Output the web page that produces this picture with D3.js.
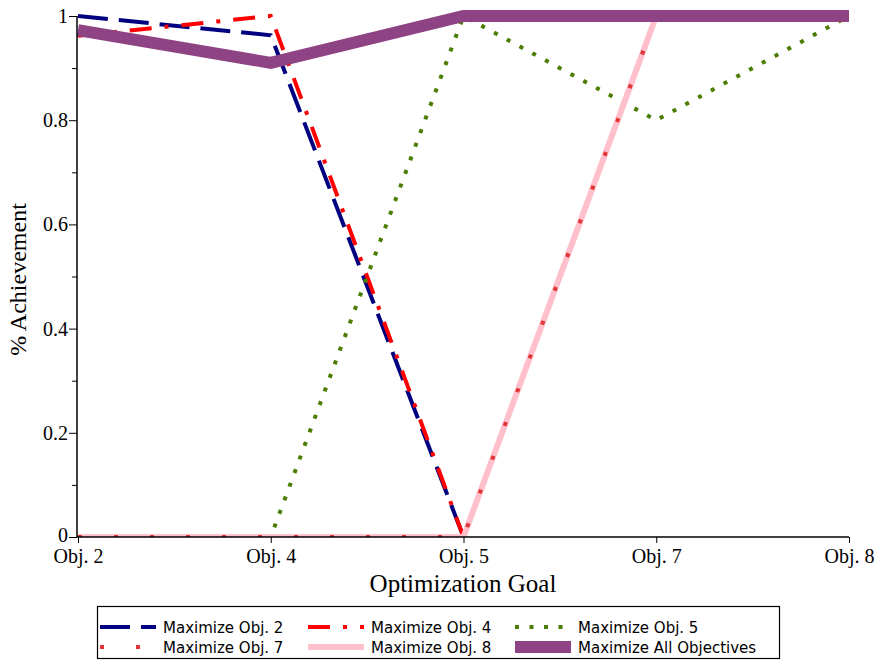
<!DOCTYPE html>
<html>
<head>
<meta charset="utf-8">
<script src="https://cdn.jsdelivr.net/npm/d3@7/dist/d3.min.js"></script>
<style>
  body { margin: 0; background: #fff; }
  svg { display: block; }
  .axis text { font-family: 'Liberation Serif', 'Times New Roman', serif; font-size: 20px; fill: #000; }
</style>
</head>
<body>
<div id="chart-area"></div>
<script>
// --- Data ---
var goals = ["Obj. 2", "Obj. 4", "Obj. 5", "Obj. 7", "Obj. 8"];
var maxObj2 = [1, 0.963, 0, 1, 1];
var maxObj4 = [0.962, 1, 0, 1, 1];
var maxObj5 = [0, 0, 1, 0.8, 1];
var maxObj7 = [0, 0, 0, 1, 1];
var maxObj8 = [0, 0, 0, 1, 1];
var maxAll = [0.973, 0.91, 1, 1, 1];
var yTicks = [0, 0.2, 0.4, 0.6, 0.8, 1];
var yMinorTicks = [0.1, 0.3, 0.5, 0.7, 0.9];

var series = [
    {name: "Maximize Obj. 2", values: maxObj2, color: "#000080", width: 4, dash: "30,11"},
    {name: "Maximize Obj. 4", values: maxObj4, color: "#ff0000", width: 4, dash: "22,13,4,13"},
    {name: "Maximize Obj. 5", values: maxObj5, color: "#4b7d00", width: 4, dash: "4,10.5"},
    {name: "Maximize Obj. 8", values: maxObj8, color: "#ffc0cb", width: 6, dash: null},
    {name: "Maximize Obj. 7", values: maxObj7, color: "#e03636", width: 4, dash: "4,32"},
    {name: "Maximize All Objectives", values: maxAll, color: "#8e4384", width: 12, dash: null}
];
var legendOrder = ["Maximize Obj. 2", "Maximize Obj. 4", "Maximize Obj. 5",
                   "Maximize Obj. 7", "Maximize Obj. 8", "Maximize All Objectives"];

// --- Setup the canvas ---
var margins = {top: 16, bottom: 124, left: 77, right: 28};
var svgW = 877, svgH = 661;
var width = svgW - margins.left - margins.right;
var height = svgH - margins.top - margins.bottom;

var svg = d3.select("#chart-area").append("svg")
    .attr("width", svgW)
    .attr("height", svgH);

var group = svg.append("g")
    .attr("transform", "translate(" + margins.left + ", " + margins.top + ")");

// --- Scales ---
var x = d3.scalePoint().domain(goals).range([1, width]);
var y = d3.scaleLinear().domain([0, 1]).range([height, 0]);

// clip to plot area
svg.append("defs").append("clipPath").attr("id", "plot-clip")
    .append("rect")
    .attr("x", 0).attr("y", -10)
    .attr("width", width + 10).attr("height", height + 10);

// --- Lines ---
var line = d3.line()
    .x(function(d, i) { return x(goals[i]); })
    .y(function(d) { return y(d); });

var lines = group.append("g").attr("clip-path", "url(#plot-clip)");
series.forEach(function(s) {
    lines.append("path")
        .attr("d", line(s.values))
        .attr("fill", "none")
        .attr("stroke", s.color)
        .attr("stroke-width", s.width)
        .attr("stroke-dasharray", s.dash)
        .attr("stroke-linejoin", "miter");
});

// --- Axes ---
var serif = "'Liberation Serif', 'Times New Roman', serif";

var xAxis = d3.axisBottom(x).tickSize(6).tickPadding(6);
var xAxisGroup = group.append("g")
    .attr("class", "axis x-axis")
    .attr("transform", "translate(0, " + height + ")")
    .call(xAxis);
xAxisGroup.select(".domain").attr("d", "M0,0H" + width).attr("stroke-width", 1.5);

var yAxis = d3.axisLeft(y).tickValues(yTicks).tickSize(8).tickPadding(1)
    .tickFormat(function(d) { return d === 0 || d === 1 ? d3.format("d")(d) : d3.format(".1f")(d); });
var yAxisGroup = group.append("g").attr("class", "axis y-axis").call(yAxis);
yAxisGroup.select(".domain").attr("d", "M0," + height + "V0").attr("stroke-width", 1.5);
// nudge the bottom label up a touch so it clears the x labels
yAxisGroup.selectAll(".tick text").filter(function(d) { return d === 0; }).attr("dy", "0.22em");

group.append("g").call(d3.axisLeft(y).tickValues(yMinorTicks).tickSize(5).tickFormat(""))
    .select(".domain").remove();

group.selectAll(".tick line").attr("stroke", "#000");

// --- Labels ---
svg.append("text")
    .text("Optimization Goal")
    .attr("x", margins.left + width / 2)
    .attr("y", 592)
    .attr("font-family", serif)
    .attr("font-size", "25px")
    .attr("text-anchor", "middle");

svg.append("text")
    .text("% Achievement")
    .attr("transform", "translate(26, " + (margins.top + height / 2 + 3) + ") rotate(-90)")
    .attr("font-family", serif)
    .attr("font-size", "24px")
    .attr("text-anchor", "middle");

// --- Legend ---
var legend = svg.append("g");
legend.append("rect")
    .attr("x", 97.5).attr("y", 606.5)
    .attr("width", 682).attr("height", 52)
    .attr("fill", "#fff")
    .attr("stroke", "#000")
    .attr("stroke-width", 1.2);

var colX = [100, 308, 515];
var rowY = [627, 647];
legendOrder.forEach(function(name, i) {
    var s = series.find(function(d) { return d.name === name; });
    var cx = colX[i % 3], cy = rowY[Math.floor(i / 3)];
    legend.append("line")
        .attr("x1", cx).attr("x2", cx + 56)
        .attr("y1", cy).attr("y2", cy)
        .attr("stroke", s.color)
        .attr("stroke-width", s.width)
        .attr("stroke-dasharray", s.dash);
    legend.append("text")
        .text(name)
        .attr("x", cx + 63)
        .attr("y", cy + 6)
        .attr("font-family", "'DejaVu Sans', sans-serif")
        .attr("font-size", "15px");
});
</script>
</body>
</html>
